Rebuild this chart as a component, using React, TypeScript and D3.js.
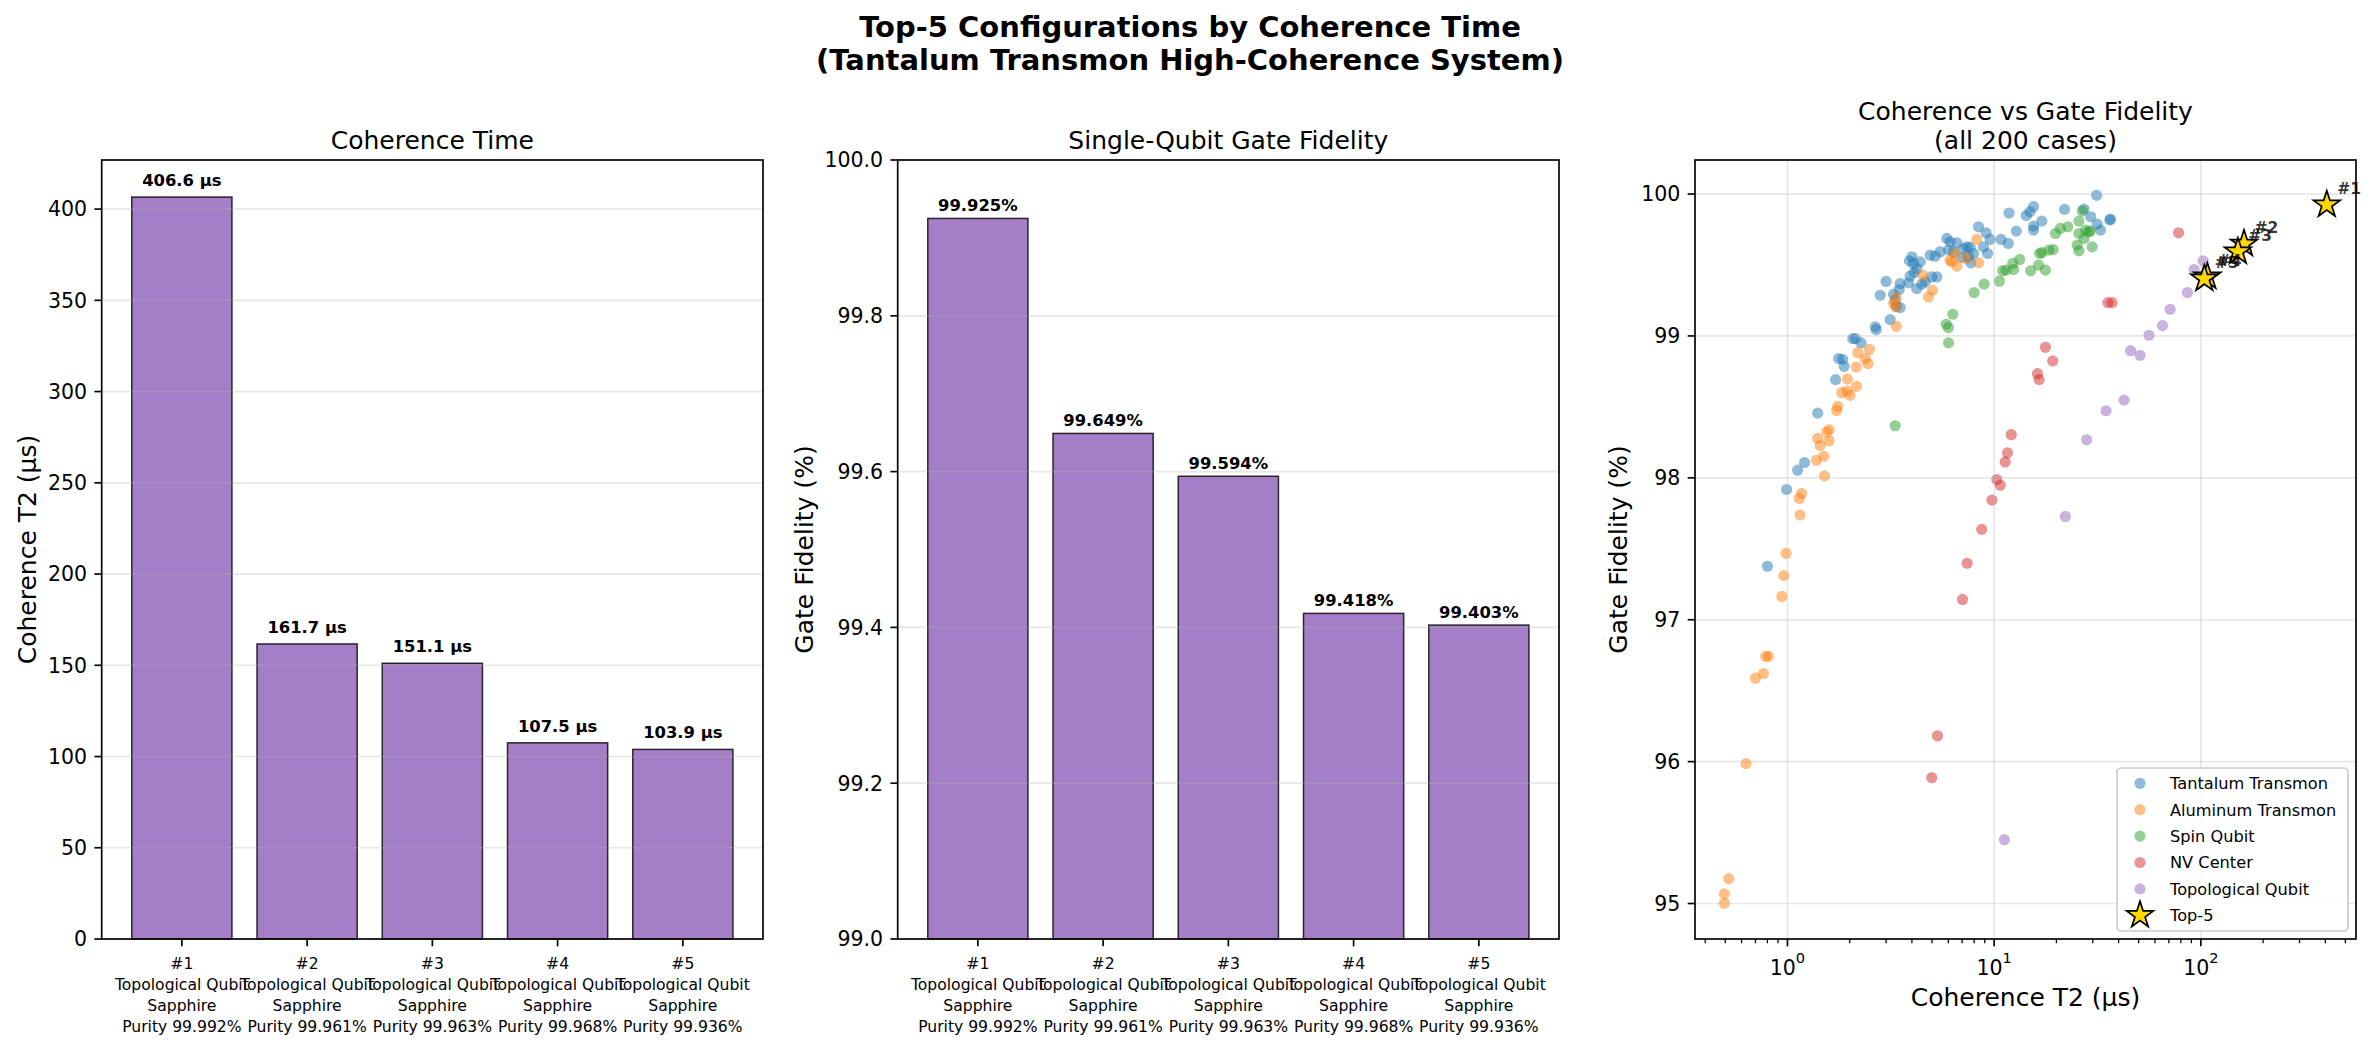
import * as d3 from "d3";

const W = 2378;
const H = 1049;
const FONT = "'DejaVu Sans', sans-serif";

// top-5 configurations (bars + stars)
const ranks = ["#1", "#2", "#3", "#4", "#5"];
const topQubitTypes = ["Topological Qubit", "Topological Qubit", "Topological Qubit", "Topological Qubit", "Topological Qubit"];
const topSubstrates = ["Sapphire", "Sapphire", "Sapphire", "Sapphire", "Sapphire"];
const topPurities = ["99.992", "99.961", "99.963", "99.968", "99.936"];
const topT2 = [406.6, 161.7, 151.1, 107.5, 103.9];
const topFidelity = [99.925, 99.649, 99.594, 99.418, 99.403];

const t2Ticks = [0, 50, 100, 150, 200, 250, 300, 350, 400];
const fidelityTicks = [99.0, 99.2, 99.4, 99.6, 99.8, 100.0];
const scatterFidTicks = [95, 96, 97, 98, 99, 100];

const seriesNames = ["Tantalum Transmon", "Aluminum Transmon", "Spin Qubit", "NV Center", "Topological Qubit"];
const seriesColors = ["#1f77b4", "#ff7f0e", "#2ca02c", "#d62728", "#9467bd"];

// [T2 (us), gate fidelity (%)]
const tantalumPts: [number, number][] = [
  [8.4, 99.769], [5.9, 99.687], [6.12, 99.664], [6.6, 99.656], [7.11, 99.616], [7.38, 99.628],
  [7.65, 99.624], [7.94, 99.581], [7.51, 99.558], [7.71, 99.515], [6.98, 99.553], [6.36, 99.593],
  [6.01, 99.605], [5.48, 99.593], [5.18, 99.562], [4.9, 99.569], [4.0, 99.558], [3.89, 99.529],
  [4.07, 99.511], [4.39, 99.522], [4.23, 99.475], [4.1, 99.447], [3.92, 99.421], [5.28, 99.416],
  [4.99, 99.416], [4.64, 99.381], [4.47, 99.365], [4.22, 99.334], [3.85, 99.374], [3.51, 99.369],
  [3.47, 99.327], [3.0, 99.384], [2.81, 99.287], [3.26, 99.294], [3.32, 99.252], [3.51, 99.2],
  [3.36, 99.209], [3.14, 99.115], [2.66, 99.064], [2.69, 99.045], [2.07, 98.981], [2.13, 98.981],
  [2.27, 98.951], [1.77, 98.84], [1.85, 98.835], [1.88, 98.786], [1.71, 98.692], [1.4, 98.456],
  [1.21, 98.108], [1.12, 98.054], [0.99, 97.918], [0.8, 97.377], [31.3, 99.991], [15.5, 99.911],
  [14.9, 99.875], [14.3, 99.849], [11.8, 99.866], [21.9, 99.892], [27.2, 99.894], [29.3, 99.84],
  [31.5, 99.788], [36.5, 99.824], [36.3, 99.816], [32.7, 99.746], [17.0, 99.809], [15.5, 99.774],
  [15.5, 99.746], [12.8, 99.739], [10.8, 99.68], [11.7, 99.652], [8.88, 99.628], [9.29, 99.581],
  [9.14, 99.727], [9.57, 99.68],
];
const aluminumPts: [number, number][] = [
  [8.24, 99.68], [6.48, 99.581], [7.32, 99.546], [6.12, 99.534], [6.24, 99.522], [6.6, 99.492],
  [8.4, 99.515], [4.52, 99.428], [5.03, 99.322], [4.81, 99.275], [3.36, 99.271], [3.26, 99.228],
  [3.36, 99.205], [3.36, 99.068], [2.49, 98.906], [2.19, 98.882], [2.38, 98.84], [2.45, 98.805],
  [2.15, 98.781], [1.95, 98.696], [2.16, 98.645], [1.94, 98.612], [1.83, 98.6], [2.01, 98.581],
  [1.75, 98.504], [1.73, 98.475], [1.59, 98.339], [1.55, 98.322], [1.4, 98.278], [1.59, 98.261],
  [1.44, 98.228], [1.5, 98.152], [1.38, 98.124], [1.51, 98.014], [1.17, 97.89], [1.14, 97.855],
  [1.15, 97.738], [0.985, 97.468], [0.96, 97.311], [0.94, 97.164], [0.81, 96.742], [0.785, 96.742],
  [0.765, 96.621], [0.7, 96.588], [0.63, 95.986], [0.52, 95.175], [0.495, 95.068], [0.495, 95.002],
];
const spinPts: [number, number][] = [
  [8.0, 99.306], [6.31, 99.153], [5.86, 99.082], [6.01, 99.059], [6.01, 98.951], [3.32, 98.367],
  [26.7, 99.88], [25.7, 99.809], [22.7, 99.769], [20.9, 99.758], [19.8, 99.722], [25.7, 99.722],
  [27.7, 99.746], [29.2, 99.739], [28.7, 99.734], [27.2, 99.687], [25.2, 99.64], [29.8, 99.628],
  [25.7, 99.6], [19.3, 99.609], [18.4, 99.605], [17.0, 99.588], [16.6, 99.581], [13.3, 99.539],
  [12.3, 99.511], [12.4, 99.468], [11.4, 99.464], [11.0, 99.459], [15.0, 99.459], [16.4, 99.499],
  [17.7, 99.464], [8.94, 99.365], [10.6, 99.386],
];
const nvPts: [number, number][] = [
  [78.0, 99.727], [35.5, 99.235], [37.2, 99.235], [17.7, 98.92], [19.2, 98.824], [16.2, 98.734],
  [16.5, 98.692], [12.1, 98.304], [11.6, 98.176], [11.3, 98.112], [10.3, 97.988], [10.7, 97.948],
  [9.75, 97.843], [8.71, 97.637], [7.4, 97.398], [7.03, 97.143], [5.32, 96.182], [4.99, 95.887],
];
const topologicalPts: [number, number][] = [
  [102.6, 99.529], [92.8, 99.468], [86.1, 99.306], [71.0, 99.188], [65.2, 99.073], [56.1, 99.005],
  [45.7, 98.896], [50.8, 98.864], [42.5, 98.548], [34.8, 98.473], [28.0, 98.268], [22.1, 97.728],
  [11.2, 95.45],
];

const TOP = 160;
const BOTTOM = 939;
const TICK = 7.3;
const AXIS_W = 1.67;
const GRID = "#b0b0b0";

function BarPanel(props: {
  x0: number; x1: number; values: number[]; domain: [number, number]; ticks: number[];
  tickFmt: (v: number) => string; valueFmt: (v: number) => string; labelGap: number;
  title: string; ylabel: string; ylabelX: number;
}) {
  const { x0, x1, values, domain, ticks, tickFmt, valueFmt, labelGap, title, ylabel, ylabelX } = props;
  const x = d3.scaleBand<number>().domain(d3.range(values.length)).range([x0, x1]).paddingInner(0.2).paddingOuter(0.24);
  const y = d3.scaleLinear().domain(domain).range([BOTTOM, TOP]);
  const cx = (x0 + x1) / 2;
  return (
    <g>
      {values.map((v, i) => (
        <rect key={i} x={x(i)} y={y(v)} width={x.bandwidth()} height={y(domain[0]) - y(v)}
          fill="#9467bd" fillOpacity={0.85} stroke="#000" strokeOpacity={0.8} strokeWidth={1.5} />
      ))}
      {ticks.map((t) => (
        <line key={t} x1={x0} x2={x1} y1={y(t)} y2={y(t)} stroke={GRID} strokeOpacity={0.3} strokeWidth={AXIS_W} />
      ))}
      {values.map((v, i) => (
        <text key={i} x={x(i)! + x.bandwidth() / 2} y={y(v) - labelGap} textAnchor="middle"
          fontSize={16.4} fontWeight="bold">{valueFmt(v)}</text>
      ))}
      <rect x={x0} y={TOP} width={x1 - x0} height={BOTTOM - TOP} fill="none" stroke="#000" strokeWidth={AXIS_W} />
      {ticks.map((t) => (
        <g key={t}>
          <line x1={x0 - TICK} x2={x0} y1={y(t)} y2={y(t)} stroke="#000" strokeWidth={AXIS_W} />
          <text x={x0 - TICK - 7.3} y={y(t)} dy="0.36em" textAnchor="end" fontSize={20.5}>{tickFmt(t)}</text>
        </g>
      ))}
      {ranks.map((r, i) => {
        const bx = x(i)! + x.bandwidth() / 2;
        const lines = [r, topQubitTypes[i], topSubstrates[i], `Purity ${topPurities[i]}%`];
        return (
          <g key={r}>
            <line x1={bx} x2={bx} y1={BOTTOM} y2={BOTTOM + TICK} stroke="#000" strokeWidth={AXIS_W} />
            <text textAnchor="middle" fontSize={15.6}>
              {lines.map((l, j) => (
                <tspan key={j} x={bx} y={968.5 + j * 21.3}>{l}</tspan>
              ))}
            </text>
          </g>
        );
      })}
      <text x={cx} y={TOP - 11} textAnchor="middle" fontSize={25}>{title}</text>
      <text transform={`translate(${ylabelX},${(TOP + BOTTOM) / 2}) rotate(-90)`} dy="0.35em"
        textAnchor="middle" fontSize={25}>{ylabel}</text>
    </g>
  );
}

function ScatterPanel() {
  const x0 = 1695, x1 = 2356;
  const x = d3.scaleLog().domain([0.357, 563]).range([x0, x1]);
  const y = d3.scaleLinear().domain([94.75, 100.24]).range([BOTTOM, TOP]);
  const allTicks = x.ticks();
  const majors = allTicks.filter((t) => Math.abs(Math.log10(t) - Math.round(Math.log10(t))) < 1e-9);
  const minors = allTicks.filter((t) => !majors.includes(t));
  const series = [tantalumPts, aluminumPts, spinPts, nvPts, topologicalPts.concat(topT2.map((t, i) => [t, topFidelity[i]] as [number, number]))];
  const star = d3.symbol().type(d3.symbolStar).size(220)()!;
  const cx = (x0 + x1) / 2;
  const legendRows = seriesNames.concat(["Top-5"]);
  return (
    <g>
      {series.map((pts, s) => (
        <g key={s}>
          {pts.map((p, i) => (
            <circle key={i} cx={x(p[0])} cy={y(p[1])} r={5.6} fill={seriesColors[s]} fillOpacity={0.5} />
          ))}
        </g>
      ))}
      {majors.map((t) => (
        <line key={t} x1={x(t)} x2={x(t)} y1={TOP} y2={BOTTOM} stroke={GRID} strokeOpacity={0.3} strokeWidth={AXIS_W} />
      ))}
      {scatterFidTicks.map((t) => (
        <line key={t} x1={x0} x2={x1} y1={y(t)} y2={y(t)} stroke={GRID} strokeOpacity={0.3} strokeWidth={AXIS_W} />
      ))}
      {topT2.map((t, i) => (
        <g key={i}>
          <path d={star} transform={`translate(${x(t)},${y(topFidelity[i])})`} fill="#ffd700" stroke="#000" strokeWidth={1.7} />
          <text x={x(t) + 10.4} y={y(topFidelity[i]) - 10.4} fontSize={15.5} fontWeight="bold" fill="#000" fillOpacity={0.8}>{ranks[i]}</text>
        </g>
      ))}
      <rect x={x0} y={TOP} width={x1 - x0} height={BOTTOM - TOP} fill="none" stroke="#000" strokeWidth={AXIS_W} />
      {scatterFidTicks.map((t) => (
        <g key={t}>
          <line x1={x0 - TICK} x2={x0} y1={y(t)} y2={y(t)} stroke="#000" strokeWidth={AXIS_W} />
          <text x={x0 - TICK - 7.3} y={y(t)} dy="0.36em" textAnchor="end" fontSize={20.5}>{t}</text>
        </g>
      ))}
      {minors.map((t) => (
        <line key={t} x1={x(t)} x2={x(t)} y1={BOTTOM} y2={BOTTOM + 4.2} stroke="#000" strokeWidth={1.25} />
      ))}
      {majors.map((t) => (
        <g key={t}>
          <line x1={x(t)} x2={x(t)} y1={BOTTOM} y2={BOTTOM + TICK} stroke="#000" strokeWidth={AXIS_W} />
          <text x={x(t)} y={975} textAnchor="middle" fontSize={20.5}>
            <tspan>10</tspan>
            <tspan dy={-11.7} fontSize={14.6}>{Math.round(Math.log10(t))}</tspan>
          </text>
        </g>
      ))}
      <text textAnchor="middle" fontSize={25}>
        <tspan x={cx} y={TOP - 11 - 29}>Coherence vs Gate Fidelity</tspan>
        <tspan x={cx} y={TOP - 11}>(all 200 cases)</tspan>
      </text>
      <text x={cx} y={1006} textAnchor="middle" fontSize={25}>Coherence T2 (µs)</text>
      <text transform={`translate(1618,${(TOP + BOTTOM) / 2}) rotate(-90)`} dy="0.35em" textAnchor="middle" fontSize={25}>Gate Fidelity (%)</text>
      <g>
        <rect x={2117} y={768} width={231} height={163} rx={4} fill="#fff" fillOpacity={0.8} stroke="#cccccc" strokeWidth={AXIS_W} />
        {legendRows.map((name, i) => {
          const ry = 783.3 + i * 26.4;
          return (
            <g key={name}>
              {i < 5 ? (
                <circle cx={2140} cy={ry} r={5.6} fill={seriesColors[i]} fillOpacity={0.5} />
              ) : (
                <path d={star} transform={`translate(2140,${ry})`} fill="#ffd700" stroke="#000" strokeWidth={1.7} />
              )}
              <text x={2170} y={ry} dy="0.36em" fontSize={16.2}>{name}</text>
            </g>
          );
        })}
      </g>
    </g>
  );
}

export default function App() {
  return (
    <div style={{ position: "absolute", left: 0, top: 0 }}>
      <svg width={W} height={H} viewBox={`0 0 ${W} ${H}`} fontFamily={FONT} style={{ display: "block", background: "#fff" }}>
        <text textAnchor="middle" fontSize={29} fontWeight="bold">
          <tspan x={1190} y={37}>Top-5 Configurations by Coherence Time</tspan>
          <tspan x={1190} y={70}>(Tantalum Transmon High-Coherence System)</tspan>
        </text>
        <BarPanel x0={101.7} x1={763} values={topT2} domain={[0, 426.9]} ticks={t2Ticks}
          tickFmt={(v) => String(v)} valueFmt={(v) => `${v.toFixed(1)} µs`} labelGap={11}
          title="Coherence Time" ylabel="Coherence T2 (µs)" ylabelX={27} />
        <BarPanel x0={897.7} x1={1559} values={topFidelity} domain={[99, 100]} ticks={fidelityTicks}
          tickFmt={(v) => v.toFixed(1)} valueFmt={(v) => `${v.toFixed(3)}%`} labelGap={7}
          title="Single-Qubit Gate Fidelity" ylabel="Gate Fidelity (%)" ylabelX={804} />
        <ScatterPanel />
      </svg>
    </div>
  );
}
